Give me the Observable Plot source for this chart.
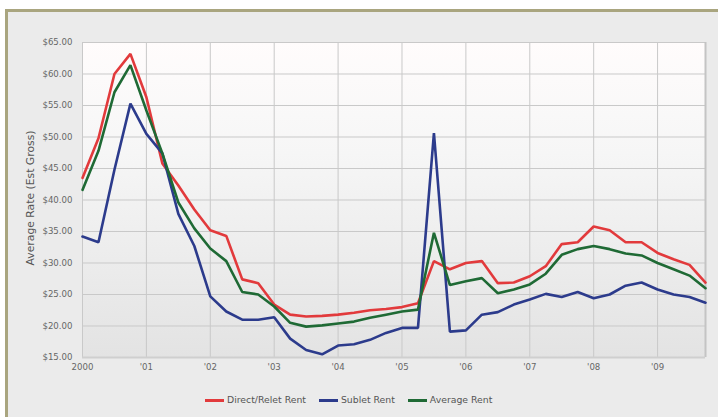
<!DOCTYPE html>
<html>
<head>
<meta charset="utf-8">
<script src="https://cdn.jsdelivr.net/npm/d3@7"></script>
<script src="https://cdn.jsdelivr.net/npm/@observablehq/plot@0.6"></script>
<style>
  html, body { margin: 0; padding: 0; background: #ffffff; }
  body { width: 718px; height: 417px; position: relative; overflow: hidden; font-family: "DejaVu Sans", Verdana, sans-serif; }
  #panel { position: absolute; left: 5px; top: 9px; width: 720px; height: 412px; box-sizing: border-box;
           border: 3px solid #a9a57f; background: #ebebeb; }
  #chart { position: absolute; left: 0; top: 0; }
  #legend { position: absolute; top: 394px; left: 205px; display: flex; align-items: center;
            font-size: 9.3px; color: #555; line-height: 12px; }
  .item { display: flex; align-items: center; gap: 3px; margin-right: 13px; }
  .sw { width: 19px; height: 3px; display: inline-block; }
</style>
</head>
<body>
<div id="panel"></div>
<div id="chart"></div>
<div id="legend"></div>
<script>
const quarters = [
  2000.00, 2000.25, 2000.50, 2000.75, 2001.00, 2001.25, 2001.50, 2001.75,
  2002.00, 2002.25, 2002.50, 2002.75, 2003.00, 2003.25, 2003.50, 2003.75,
  2004.00, 2004.25, 2004.50, 2004.75, 2005.00, 2005.25, 2005.50, 2005.75,
  2006.00, 2006.25, 2006.50, 2006.75, 2007.00, 2007.25, 2007.50, 2007.75,
  2008.00, 2008.25, 2008.50, 2008.75, 2009.00, 2009.25, 2009.50, 2009.75
];
const directRent = [
  43.5, 49.8, 60.0, 63.2, 56.3, 45.8, 42.3, 38.5,
  35.2, 34.3, 27.4, 26.8, 23.4, 21.8, 21.5, 21.6,
  21.8, 22.1, 22.5, 22.7, 23.0, 23.6, 30.3, 29.0,
  30.0, 30.3, 26.8, 26.9, 27.9, 29.5, 33.0, 33.3,
  35.8, 35.2, 33.3, 33.3, 31.6, 30.6, 29.7, 26.9
];
const subletRent = [
  34.2, 33.3, 44.8, 55.3, 50.5, 47.4, 37.8, 32.7,
  24.7, 22.3, 21.0, 21.0, 21.4, 18.0, 16.2, 15.5,
  16.9, 17.1, 17.8, 18.9, 19.7, 19.7, 50.6, 19.1,
  19.3, 21.8, 22.2, 23.4, 24.2, 25.1, 24.6, 25.4,
  24.4, 25.0, 26.4, 26.9, 25.8, 25.0, 24.6, 23.7
];
const averageRent = [
  41.6, 47.8, 57.1, 61.4, 54.2, 47.4, 39.6, 35.5,
  32.3, 30.3, 25.4, 25.0, 23.1, 20.5, 19.9, 20.1,
  20.4, 20.7, 21.3, 21.8, 22.3, 22.6, 34.8, 26.5,
  27.1, 27.6, 25.2, 25.8, 26.6, 28.3, 31.3, 32.2,
  32.7, 32.2, 31.5, 31.2, 30.0, 29.0, 28.0, 26.0
];
const seriesNames = ["Direct/Relet Rent", "Sublet Rent", "Average Rent"];
const seriesColors = ["#e23a3c", "#2c3b8c", "#1f6a35"];
const yearTicks = [2000, 2001, 2002, 2003, 2004, 2005, 2006, 2007, 2008, 2009];
const yearLabels = ["2000", "'01", "'02", "'03", "'04", "'05", "'06", "'07", "'08", "'09"];
const yTicks = [15, 20, 25, 30, 35, 40, 45, 50, 55, 60, 65];

const seriesValues = [directRent, subletRent, averageRent];
const rows = [];
seriesNames.forEach((name, s) => {
  quarters.forEach((q, i) => rows.push({series: name, q, v: seriesValues[s][i]}));
});

const chart = Plot.plot({
  width: 718,
  height: 382,
  marginLeft: 82,
  marginRight: 13,
  marginTop: 42,
  marginBottom: 25,
  style: {background: "transparent", fontFamily: "'DejaVu Sans', Verdana, sans-serif", fontSize: "8.6px", color: "#666"},
  x: {domain: [2000, 2009.75]},
  y: {domain: [15, 65]},
  color: {domain: seriesNames, range: seriesColors},
  marks: [
    Plot.frame({fill: "url(#plotbg)", stroke: null}),
    Plot.gridX(yearTicks, {stroke: "#c9c9c9", strokeOpacity: 1, strokeWidth: 1}),
    Plot.gridY(yTicks, {stroke: "#c9c9c9", strokeOpacity: 1, strokeWidth: 1}),
    Plot.ruleX([2009.75], {stroke: "#c4c4c4", strokeWidth: 2}),
    Plot.ruleY([15], {stroke: "#cfcfcf", strokeWidth: 2}),
    Plot.axisX(yearTicks, {tickSize: 0, tickPadding: 6, tickFormat: (d) => yearLabels[yearTicks.indexOf(d)], label: null, fill: "#666"}),
    Plot.axisY(yTicks, {tickSize: 0, tickPadding: 10, tickFormat: d3.format("$.2f"), label: null, fill: "#666"}),
    Plot.text(["Average Rate (Est Gross)"], {frameAnchor: "left", dx: -52, rotate: -90, fontSize: 10.8, fill: "#555", textAnchor: "middle", dy: -2}),
    Plot.line(rows, {x: "q", y: "v", z: "series", stroke: "series", strokeWidth: 2.6, strokeLinejoin: "miter"})
  ]
});

const ns = "http://www.w3.org/2000/svg";
const defs = document.createElementNS(ns, "defs");
defs.innerHTML = '<linearGradient id="plotbg" x1="0" y1="0" x2="0" y2="1">' +
  '<stop offset="0" stop-color="#fffcfc"/><stop offset="0.35" stop-color="#f6f6f6"/>' +
  '<stop offset="1" stop-color="#e3e3e3"/></linearGradient>';
chart.insertBefore(defs, chart.firstChild);
document.getElementById("chart").appendChild(chart);

const legend = document.getElementById("legend");
seriesNames.forEach((name, i) => {
  const item = document.createElement("div");
  item.className = "item";
  const sw = document.createElement("span");
  sw.className = "sw";
  sw.style.background = seriesColors[i];
  const label = document.createElement("span");
  label.textContent = name;
  item.appendChild(sw);
  item.appendChild(label);
  legend.appendChild(item);
});
</script>
</body>
</html>
